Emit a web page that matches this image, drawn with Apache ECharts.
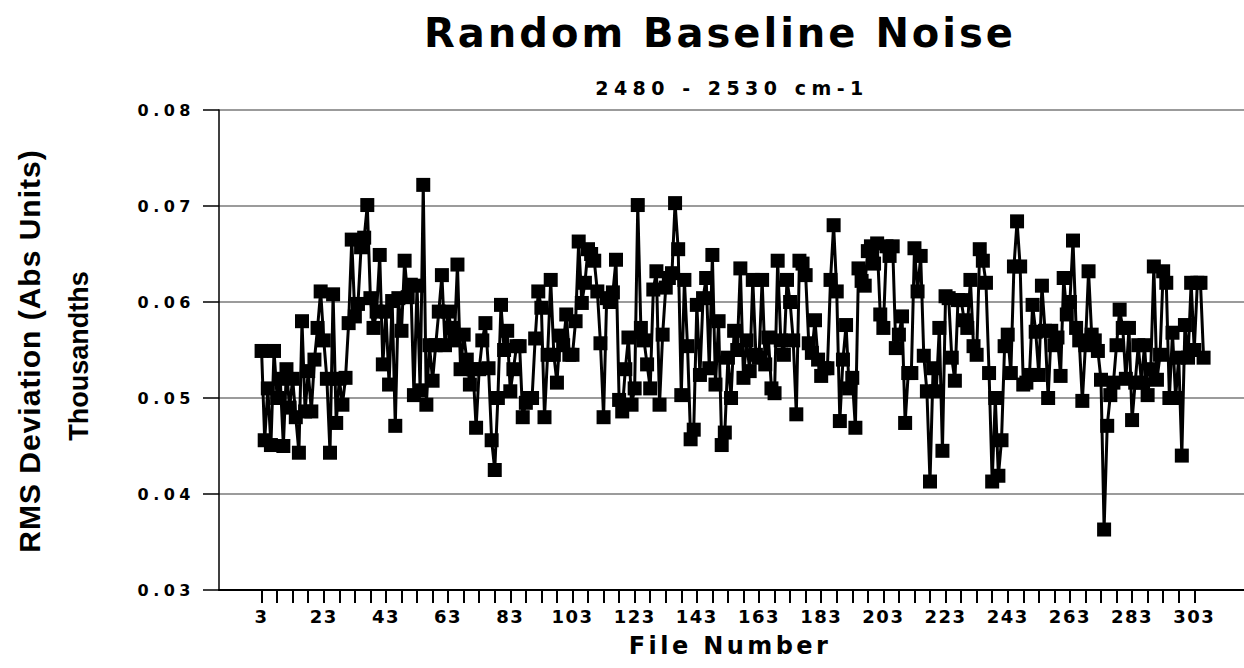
<!DOCTYPE html>
<html>
<head>
<meta charset="utf-8">
<title>Random Baseline Noise</title>
<script src="https://cdn.jsdelivr.net/npm/echarts@6/dist/echarts.min.js"></script>
<style>
  html, body { margin: 0; padding: 0; background: #fff; }
  #chart { width: 1244px; height: 668px; }
</style>
</head>
<body>
<div id="chart"></div>
<script>
// RMS deviation per file, starting at file 3 (one value per file)
const firstFile = 3;
const rmsValues = [
  0.0549,0.0456,0.0510,0.0451,0.0549,0.0500,0.0520,0.0450,0.0530,0.0490,
  0.0520,0.0480,0.0443,0.0580,0.0486,0.0528,0.0486,0.0540,0.0573,0.0611,
  0.0560,0.0520,0.0443,0.0608,0.0474,0.0520,0.0493,0.0521,0.0578,0.0665,
  0.0585,0.0598,0.0657,0.0667,0.0701,0.0604,0.0573,0.0590,0.0649,0.0535,
  0.0590,0.0514,0.0601,0.0471,0.0604,0.0570,0.0643,0.0605,0.0618,0.0503,
  0.0617,0.0508,0.0722,0.0493,0.0555,0.0518,0.0555,0.0590,0.0628,0.0555,
  0.0590,0.0573,0.0560,0.0639,0.0530,0.0566,0.0540,0.0514,0.0530,0.0469,
  0.0530,0.0560,0.0578,0.0531,0.0456,0.0425,0.0500,0.0597,0.0550,0.0570,
  0.0507,0.0530,0.0554,0.0554,0.0480,0.0495,0.0500,0.0500,0.0562,0.0611,
  0.0594,0.0480,0.0545,0.0623,0.0545,0.0516,0.0565,0.0555,0.0587,0.0545,
  0.0545,0.0580,0.0663,0.0599,0.0620,0.0655,0.0650,0.0643,0.0611,0.0557,
  0.0480,0.0604,0.0600,0.0610,0.0644,0.0498,0.0486,0.0530,0.0563,0.0493,
  0.0510,0.0701,0.0573,0.0560,0.0535,0.0510,0.0613,0.0632,0.0493,0.0566,
  0.0615,0.0625,0.0630,0.0703,0.0655,0.0503,0.0623,0.0554,0.0457,0.0467,
  0.0597,0.0524,0.0604,0.0625,0.0531,0.0649,0.0514,0.0580,0.0451,0.0464,
  0.0542,0.0500,0.0570,0.0550,0.0635,0.0521,0.0560,0.0528,0.0623,0.0545,
  0.0542,0.0623,0.0535,0.0563,0.0510,0.0505,0.0643,0.0560,0.0545,0.0623,
  0.0600,0.0560,0.0483,0.0643,0.0640,0.0628,0.0557,0.0547,0.0581,0.0540,
  0.0523,0.0531,0.0531,0.0623,0.0680,0.0611,0.0476,0.0540,0.0576,0.0510,
  0.0521,0.0469,0.0635,0.0622,0.0617,0.0653,0.0658,0.0640,0.0661,0.0587,
  0.0573,0.0658,0.0648,0.0658,0.0552,0.0566,0.0585,0.0474,0.0526,0.0526,
  0.0656,0.0611,0.0648,0.0544,0.0507,0.0413,0.0531,0.0507,0.0573,0.0445,
  0.0606,0.0604,0.0542,0.0518,0.0602,0.0602,0.0581,0.0573,0.0623,0.0554,
  0.0545,0.0655,0.0643,0.0620,0.0526,0.0413,0.0500,0.0419,0.0456,0.0554,
  0.0566,0.0526,0.0637,0.0684,0.0637,0.0514,0.0516,0.0524,0.0597,0.0569,
  0.0524,0.0617,0.0570,0.0500,0.0570,0.0555,0.0563,0.0523,0.0625,0.0587,
  0.0600,0.0664,0.0573,0.0560,0.0497,0.0555,0.0632,0.0566,0.0560,0.0549,
  0.0519,0.0363,0.0471,0.0503,0.0516,0.0555,0.0592,0.0573,0.0520,0.0573,
  0.0477,0.0516,0.0555,0.0516,0.0555,0.0503,0.0530,0.0637,0.0519,0.0545,
  0.0632,0.0620,0.0500,0.0568,0.0500,0.0542,0.0440,0.0576,0.0542,0.0620,
  0.0550,0.0620,0.0620,0.0542
];

// File-number axis: labelled every 20 files, ticked every 5
const xLabelValues = [3, 23, 43, 63, 83, 103, 123, 143, 163, 183, 203, 223, 243, 263, 283, 303];
const xTickValues = [
  3, 8, 13, 18, 23, 28, 33, 38, 43, 48, 53, 58, 63, 68, 73, 78, 83, 88, 93, 98,
  103, 108, 113, 118, 123, 128, 133, 138, 143, 148, 153, 158, 163, 168, 173, 178,
  183, 188, 193, 198, 203, 208, 213, 218, 223, 228, 233, 238, 243, 248, 253, 258,
  263, 268, 273, 278, 283, 288, 293, 298, 303
];

const titleText = 'Random Baseline Noise';
const subtitleText = '2480 - 2530 cm-1';
const xAxisTitle = 'File Number';
const yAxisTitle = 'RMS Deviation (Abs Units)';
const yAxisSubtitle = 'Thousandths';

const WIDE = '"DejaVu Sans", Verdana, sans-serif';
const NARROW = '"Liberation Sans", Arial, Helvetica, sans-serif';
const points = rmsValues.map((v, i) => [firstFile + i, v]);

const chart = echarts.init(document.getElementById('chart'), null, { renderer: 'svg', width: 1244, height: 668 });

chart.setOption({
  animation: false,
  backgroundColor: '#ffffff',
  grid: { left: 219, top: 110, right: 0, bottom: 78, containLabel: false, outerBoundsMode: 'none' },
  xAxis: {
    type: 'value',
    min: -10.7,
    max: 319,
    axisLine: { show: true, onZero: false, lineStyle: { color: '#000', width: 2 } },
    axisTick: { show: true, customValues: xTickValues, length: 13, lineStyle: { color: '#000', width: 2 } },
    axisLabel: {
      customValues: xLabelValues, margin: 17, color: '#000',
      fontSize: 18, fontWeight: 'bold', fontFamily: WIDE
    },
    splitLine: { show: false }
  },
  yAxis: {
    type: 'value',
    min: 0.03,
    max: 0.08,
    interval: 0.01,
    axisLine: { show: true, onZero: false, lineStyle: { color: '#000', width: 1.5 } },
    axisTick: { show: true, length: 16, lineStyle: { color: '#000', width: 1.5 } },
    axisLabel: {
      formatter: v => v.toFixed(2), margin: 24, color: '#000',
      fontSize: 16, fontWeight: 'bold', fontFamily: WIDE
    },
    splitLine: { show: true, lineStyle: { color: '#7a7a7a', width: 1.5 } }
  },
  series: [{
    type: 'line',
    data: points,
    symbol: 'rect',
    symbolSize: 14,
    lineStyle: { color: '#000', width: 3 },
    itemStyle: { color: '#000' },
    z: 3
  }],
  graphic: [
    { type: 'text', x: 720, y: 33, style: { text: titleText, fill: '#000', font: 'bold 40px ' + WIDE, align: 'center', verticalAlign: 'middle', textAlign: 'center', textVerticalAlign: 'middle' } },
    { type: 'text', x: 732, y: 88, style: { text: subtitleText, fill: '#000', font: 'bold 19px ' + WIDE, align: 'center', verticalAlign: 'middle', textAlign: 'center', textVerticalAlign: 'middle' } },
    { type: 'text', x: 730, y: 646, style: { text: xAxisTitle, fill: '#000', font: 'bold 24px ' + WIDE, align: 'center', verticalAlign: 'middle', textAlign: 'center', textVerticalAlign: 'middle' } },
    { type: 'text', x: 29, y: 351, rotation: Math.PI / 2, style: { text: yAxisTitle, fill: '#000', font: 'bold 30px ' + NARROW, align: 'center', verticalAlign: 'middle', textAlign: 'center', textVerticalAlign: 'middle' } },
    { type: 'text', x: 79, y: 356, rotation: Math.PI / 2, style: { text: yAxisSubtitle, fill: '#000', font: 'bold 27px ' + NARROW, align: 'center', verticalAlign: 'middle', textAlign: 'center', textVerticalAlign: 'middle' } }
  ]
});

// Extra letter spacing on the horizontal texts, keyed by font size
const spacingBySize = { 40: 3, 19: 5.5, 24: 3.4, 18: 1.5, 16: 4.5, 30: 1, 27: 0 };
function spaceLetters() {
  document.querySelectorAll('#chart svg text').forEach(t => {
    const fs = Math.round(parseFloat(getComputedStyle(t).fontSize));
    if (spacingBySize[fs] !== undefined) {
      t.setAttribute('letter-spacing', spacingBySize[fs]);
    }
  });
}
spaceLetters();
chart.on('finished', spaceLetters);
</script>
</body>
</html>
